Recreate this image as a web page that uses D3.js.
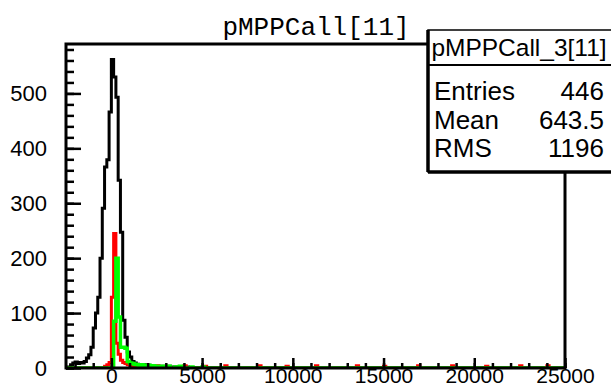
<!DOCTYPE html>
<html>
<head>
<meta charset="utf-8">
<script src="https://cdn.jsdelivr.net/npm/d3@7"></script>
<style>
  body { margin: 0; background: #fff; }
  svg { display: block; }
</style>
</head>
<body>
<svg id="chart" width="611" height="387"></svg>
<script>
// histogram binning: 220 bins of 125 from -2500 to 25000
const xMin = -2500, xMax = 25000, binWidth = 125, nBins = 220;

// black histogram, counts from bin 0 upward (rest are 0)
const blackCounts = [0, 2, 6, 9, 11, 8, 10, 9, 12, 18,
  24, 38, 73, 100, 129, 200, 291, 366, 379, 466,
  562, 530, 493, 342, 247, 87, 56, 29, 20, 12,
  9, 7, 6, 5, 6, 4, 5, 3, 4, 3,
  3, 2, 3, 2, 2, 3, 1, 2, 2, 1,
  2, 1, 1, 2, 1, 1];

// red histogram: core counts from bin 17, then sparse tail [bin, count]
const redStart = 17;
const redCounts = [3, 6, 10, 129, 245, 45, 25, 14, 10, 8, 6, 5, 4, 5, 3, 0, 4];
const redTail = [[35, 3], [40, 4], [52, 4], [61, 3], [70, 4], [85, 4], [97, 3],
  [110, 4], [128, 4], [140, 3], [155, 4], [170, 4], [185, 3], [200, 4], [212, 4]];

// green histogram: core counts from bin 20, then sparse tail
const greenStart = 20;
const greenCounts = [0, 85, 200, 93, 38, 38, 36, 12, 9, 8, 7, 6, 5, 6, 5, 4, 5, 4, 4, 3, 3];
const greenTail = [[42, 3], [45, 3], [48, 2], [50, 3], [55, 2], [60, 2]];

const yTicksMajor = [0, 100, 200, 300, 400, 500];
const xTicksMajor = [0, 5000, 10000, 15000, 20000, 25000];

const statsTitle = "pMPPCall_3[11]";
const statsLabels = ["Entries", "Mean", "RMS"];
const statsValues = ["446", "643.5", "1196"];

function fullBins(start, core, tail) {
  const arr = new Array(nBins).fill(0);
  core.forEach((c, i) => { arr[start + i] = c; });
  (tail || []).forEach(([b, c]) => { arr[b] = c; });
  return arr;
}

const blackBins = fullBins(0, blackCounts);
const redBins = fullBins(redStart, redCounts, redTail);
const greenBins = fullBins(greenStart, greenCounts, greenTail);

const svg = d3.select("#chart");
const frame = { left: 66, right: 565, top: 44, bottom: 368 };

const x = d3.scaleLinear().domain([xMin, xMax]).range([frame.left, frame.right]);
const y = d3.scaleLinear().domain([0, 590]).range([frame.bottom, frame.top]);

svg.append("defs").append("clipPath").attr("id", "clip")
  .append("rect")
  .attr("x", frame.left).attr("y", frame.top - 5)
  .attr("width", frame.right - frame.left).attr("height", frame.bottom - frame.top + 5);

// step outline for each histogram
const step = d3.line()
  .x(d => x(d[0]))
  .y(d => y(d[1]))
  .curve(d3.curveStepAfter);

function histPoints(bins) {
  const pts = bins.map((c, i) => [xMin + i * binWidth, c]);
  pts.push([xMax, bins[bins.length - 1]]);
  return pts;
}

const histG = svg.append("g").attr("clip-path", "url(#clip)");
[[blackBins, "#000", 3], [redBins, "#ff0000", 3], [greenBins, "#00ff00", 3.5]].forEach(([bins, col, w]) => {
  histG.append("path")
    .attr("d", step(histPoints(bins)))
    .attr("fill", "none")
    .attr("stroke", col)
    .attr("stroke-width", w)
    .attr("stroke-linejoin", "miter");
});

// axes
const font = "'Liberation Sans', Arial, Helvetica, sans-serif";

const yMinor = svg.append("g").attr("transform", `translate(${frame.left},0)`)
  .call(d3.axisLeft(y).tickValues(d3.range(0, 590, 20)).tickSize(-8).tickFormat(""));
const yMajor = svg.append("g").attr("transform", `translate(${frame.left},0)`)
  .call(d3.axisLeft(y).tickValues(yTicksMajor).tickSize(-15).tickPadding(19));

const xMinor = svg.append("g").attr("transform", `translate(0,${frame.bottom})`)
  .call(d3.axisBottom(x).tickValues(d3.range(-2000, 25001, 1000)).tickSize(-5).tickFormat(""));
const xMajor = svg.append("g").attr("transform", `translate(0,${frame.bottom})`)
  .call(d3.axisBottom(x).tickValues(xTicksMajor).tickSize(-10).tickPadding(0).tickFormat(d3.format("d")));

[yMinor, yMajor, xMinor, xMajor].forEach(g => {
  g.select(".domain").remove();
  g.selectAll("line").attr("stroke", "#000").attr("stroke-width", 2.5);
  g.selectAll("text").attr("font-family", font).attr("font-size", 22).attr("fill", "#000");
});
xMajor.selectAll("text").attr("font-size", 21);

// frame
svg.append("rect")
  .attr("x", frame.left).attr("y", frame.top)
  .attr("width", frame.right - frame.left).attr("height", frame.bottom - frame.top)
  .attr("fill", "none").attr("stroke", "#000").attr("stroke-width", 3);

// title
svg.append("text")
  .attr("x", 316).attr("y", 35)
  .attr("text-anchor", "middle")
  .attr("font-family", "'Liberation Mono', 'Courier New', monospace")
  .attr("font-size", 26)
  .text("pMPPCall[11]");

// stats box
const box = { x: 428, y: 30, w: 190, h: 142, sep: 65 };
const sb = svg.append("g");
sb.append("rect")
  .attr("x", box.x).attr("y", box.y).attr("width", box.w).attr("height", box.h)
  .attr("fill", "#fff").attr("stroke", "#000").attr("stroke-width", 1.5);
sb.append("line")
  .attr("x1", box.x).attr("x2", box.x).attr("y1", box.y).attr("y2", box.y + box.h)
  .attr("stroke", "#000").attr("stroke-width", 3.5);
sb.append("line")
  .attr("x1", box.x).attr("x2", box.x + box.w).attr("y1", box.y + box.h).attr("y2", box.y + box.h)
  .attr("stroke", "#000").attr("stroke-width", 3.5);
sb.append("line")
  .attr("x1", box.x).attr("x2", box.x + box.w).attr("y1", box.sep).attr("y2", box.sep)
  .attr("stroke", "#000").attr("stroke-width", 2);
sb.append("text")
  .attr("x", 519).attr("y", 56)
  .attr("text-anchor", "middle")
  .attr("font-family", font).attr("font-size", 24.5)
  .text(statsTitle);

const rowY = [100, 129, 157];
statsLabels.forEach((lab, i) => {
  sb.append("text").attr("x", 434).attr("y", rowY[i])
    .attr("font-family", font).attr("font-size", 26).text(lab);
  sb.append("text").attr("x", 604).attr("y", rowY[i])
    .attr("text-anchor", "end")
    .attr("font-family", font).attr("font-size", 26).text(statsValues[i]);
});
</script>
</body>
</html>
